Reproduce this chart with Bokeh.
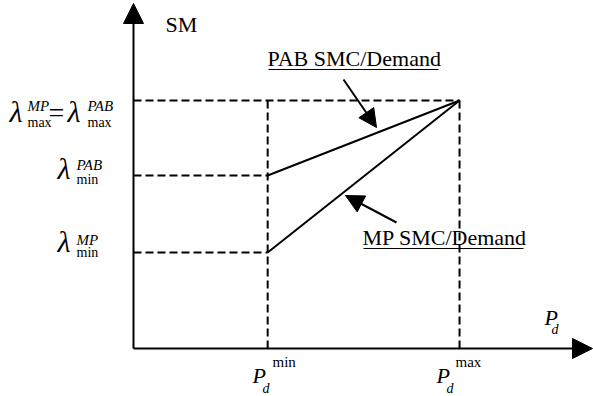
from bokeh.plotting import figure
from bokeh.models import Range1d, Arrow, NormalHead, Label
from bokeh.embed import file_html
from bokeh.resources import INLINE

# ---- data (abstract units) ----
pd_min, pd_max = 1.0, 2.43
lam_max, lam_min_pab, lam_min_mp = 2.48, 1.73, 0.96
pab_x = [pd_min, pd_max]
pab_y = [lam_min_pab, lam_max]
mp_x = [pd_min, pd_max]
mp_y = [lam_min_mp, lam_max]
curve_names = ["PAB SMC/Demand", "MP SMC/Demand"]
y_name = "SM"

# ---- layout mapping (window px -> data) ----
W, H = 593, 396
SX, SY = 134.17, 100.0
X0 = -133 / SX
YT = 348 / SY


def dx(px):
    return X0 + px / SX


def dy(py):
    return YT - py / SY


p = figure(width=W, height=H, output_backend="svg", toolbar_location=None,
           x_range=Range1d(X0, X0 + W / SX), y_range=Range1d(YT - H / SY, YT),
           min_border=0, x_axis_location=None, y_axis_location=None)
p.grid.visible = False
p.outline_line_color = None
p.background_fill_color = "white"
p.border_fill_color = "white"

FONT = "Liberation Serif"

# dashed guide lines
p.multi_line(xs=[[0, pd_max], [0, pd_min], [0, pd_min], [pd_min, pd_min], [pd_max, pd_max]],
             ys=[[lam_max, lam_max], [lam_min_pab, lam_min_pab], [lam_min_mp, lam_min_mp],
                 [0, lam_max], [0, lam_max]],
             line_color="black", line_width=2, line_dash="8 4")

# curves
p.line(pab_x, pab_y, line_color="black", line_width=2)
p.line(mp_x, mp_y, line_color="black", line_width=2)

# axes as arrows
p.add_layout(Arrow(end=NormalHead(size=20, fill_color="black", line_color="black"),
                   x_start=0, y_start=0, x_end=dx(592), y_end=0,
                   line_color="black", line_width=2))
p.add_layout(Arrow(end=NormalHead(size=20, fill_color="black", line_color="black"),
                   x_start=0, y_start=0, x_end=0, y_end=dy(3),
                   line_color="black", line_width=2))

# pointer arrows
p.add_layout(Arrow(end=NormalHead(size=18, fill_color="black", line_color="black"),
                   x_start=dx(343), y_start=dy(79), x_end=dx(376), y_end=dy(127),
                   line_color="black", line_width=2))
p.add_layout(Arrow(end=NormalHead(size=18, fill_color="black", line_color="black"),
                   x_start=dx(396), y_start=dy(222), x_end=dx(345), y_end=dy(195),
                   line_color="black", line_width=2))

K = 0.42  # baseline correction factor for label placement


def lab(text, px, py, size, style="normal"):
    p.add_layout(Label(x=dx(px), y=dy(py - K * size), text=text, text_font=FONT,
                       text_font_size=f"{size}px", text_font_style=style,
                       text_color="black", text_align="left",
                       text_baseline="alphabetic"))


lab(y_name, 165, 33, 22)
lab(curve_names[0], 267, 67, 22)
lab(curve_names[1], 362, 246, 22)
# underlines
p.segment(x0=[dx(268), dx(363)], y0=[dy(69), dy(248)],
          x1=[dx(438), dx(523)], y1=[dy(69), dy(248)],
          line_color="black", line_width=1)

# lambda labels
lab("λ", 9, 124, 30, "italic")
lab("MP", 27, 112, 15, "italic")
lab("max", 27, 128, 14)
lab("=", 48, 124, 28)
lab("λ", 67, 124, 30, "italic")
lab("PAB", 87, 112, 15, "italic")
lab("max", 87, 128, 14)

lab("λ", 57, 181, 30, "italic")
lab("PAB", 76, 171, 15, "italic")
lab("min", 76, 185, 14)

lab("λ", 57, 254, 30, "italic")
lab("MP", 76, 246, 15, "italic")
lab("min", 76, 258, 14)

# P_d labels
lab("P", 252, 384, 22, "italic")
lab("d", 262, 394, 14, "italic")
lab("min", 272, 368, 15)
lab("P", 436, 384, 22, "italic")
lab("d", 446, 394, 14, "italic")
lab("max", 455, 368, 15)
lab("P", 544, 326, 22, "italic")
lab("d", 551, 335, 14, "italic")

open("out.html", "w").write(file_html(p, INLINE))
